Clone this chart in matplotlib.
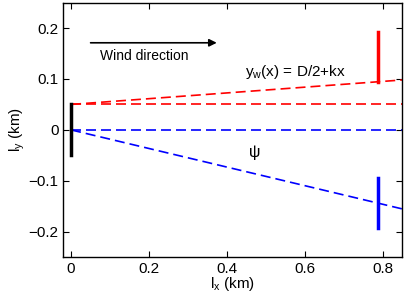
import matplotlib.pyplot as plt

plt.rcParams['font.family'] = ['Liberation Sans', 'DejaVu Sans']
plt.rcParams['mathtext.fontset'] = 'custom'
plt.rcParams['mathtext.rm'] = 'Liberation Sans'
plt.rcParams['mathtext.it'] = 'Liberation Sans'

# data (km)
D_half = 0.05
k = 0.0565
x_end = 0.85
x_bar = 0.787
red_bar = [0.0945, 0.193]
blue_bar = [-0.095, -0.193]
psi_end = -0.155
source_bar = [-0.05, 0.05]

fig = plt.figure(figsize=(4.07, 2.99), dpi=100)
ax = fig.add_axes([0.1556, 0.1395, 0.8324, 0.852])

ax.plot([0, x_end], [D_half, D_half], '--', color='red', lw=1.2, dashes=(6, 3))
ax.plot([0, x_end], [D_half, D_half + k * x_end], '--', color='red', lw=1.2, dashes=(6, 3))
ax.plot([0, x_end], [0, 0], '--', color='blue', lw=1.2, dashes=(6, 3))
ax.plot([0, x_end], [0, psi_end], '--', color='blue', lw=1.2, dashes=(6, 3))

ax.plot([0, 0], source_bar, color='black', lw=2.5)
ax.plot([x_bar, x_bar], red_bar, color='red', lw=2.5)
ax.plot([x_bar, x_bar], blue_bar, color='blue', lw=2.5)

ax.annotate('', xy=(0.374, 0.171), xytext=(0.05, 0.171),
            arrowprops=dict(arrowstyle='-|>', color='black', lw=1.2,
                            mutation_scale=11, shrinkA=0, shrinkB=0))
ax.text(0.073, 0.145, 'Wind direction', fontsize=10, va='center')
ax.text(0.447, 0.114, r'y$_\mathregular{w}$(x) = D/2+kx', fontsize=11, va='center')
ax.text(0.455, -0.045, r'$\psi$', fontsize=11.5, va='center')

ax.set_xlim(-0.02, 0.85)
ax.set_ylim(-0.25, 0.25)
ax.set_xticks([0, 0.2, 0.4, 0.6, 0.8])
ax.set_xticklabels(['0', '0.2', '0.4', '0.6', '0.8'])
ax.set_yticks([-0.2, -0.1, 0, 0.1, 0.2])
ax.set_yticklabels(['\u22120.2', '\u22120.1', '0', '0.1', '0.2'])
ax.tick_params(direction='in', top=True, right=True, labelsize=11, length=4)
for s in ax.spines.values():
    s.set_linewidth(1.0)

ax.set_xlabel(r'l$_\mathregular{x}$ (km)', fontsize=11, labelpad=-1)
ax.set_ylabel(r'l$_\mathregular{y}$ (km)', fontsize=11, labelpad=1)

fig.savefig('out.png', dpi=100)
